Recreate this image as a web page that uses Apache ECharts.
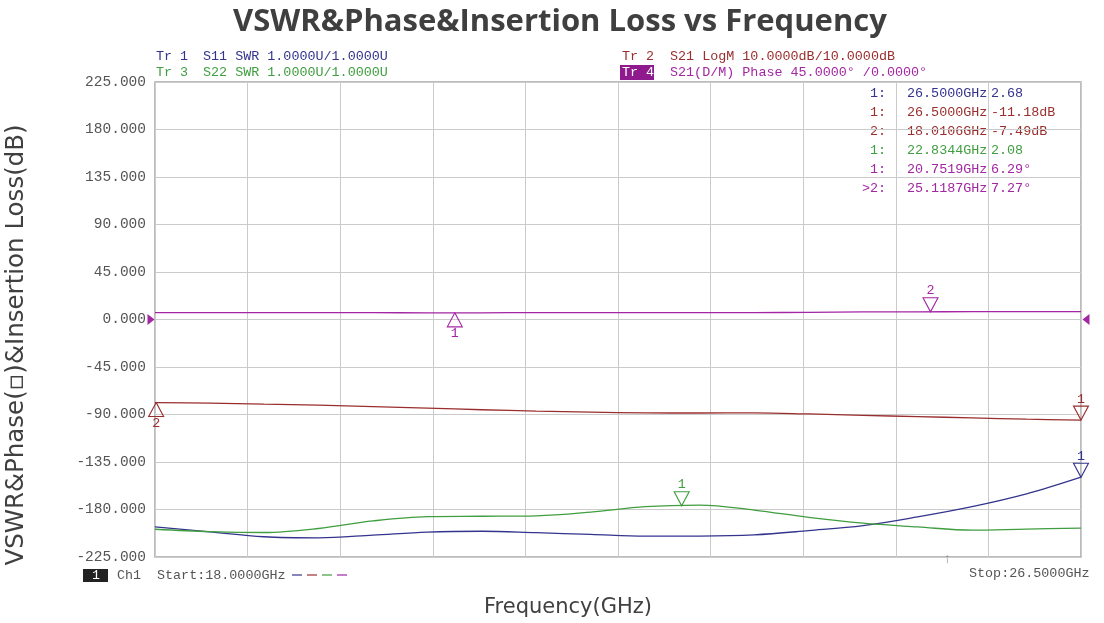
<!DOCTYPE html>
<html>
<head>
<meta charset="utf-8">
<script src="https://cdn.jsdelivr.net/npm/echarts@6/dist/echarts.min.js"></script>
<style>
html,body{margin:0;padding:0;background:#fff;}
#chart{width:1104px;height:623px;}
</style>
</head>
<body>
<div id="chart"></div>
<script>
// Frequency points (GHz)
const freqs = [18.0, 18.5, 19.0, 19.5, 20.0, 20.5, 21.0, 21.5, 22.0, 22.5, 23.0, 23.5, 24.0, 24.5, 25.0, 25.5, 26.0, 26.5];
// Trace values (display units)
const tr1S11Swr = [-196.5, -201.2, -205.8, -206.8, -204.3, -201.4, -200.6, -202.0, -203.6, -205.3, -205.2, -204.0, -200.0, -195.3, -187.0, -177.3, -165.2, -149.4];
const tr2S21LogM = [-78.7, -79.3, -80.2, -81.2, -82.5, -84.0, -85.5, -86.8, -87.8, -88.5, -88.6, -88.5, -89.5, -90.8, -92.0, -93.2, -94.4, -95.3];
const tr3S22Swr = [-198.7, -201.0, -201.8, -198.0, -190.8, -186.7, -186.4, -186.0, -182.5, -177.3, -175.8, -180.5, -187.5, -193.0, -196.5, -199.6, -198.5, -197.7];
const tr4S21Phase = [6.6, 6.6, 6.6, 6.6, 6.5, 6.3, 6.3, 6.6, 6.6, 6.6, 6.6, 6.6, 6.7, 7.2, 7.3, 7.4, 7.5, 7.5];
// Y tick labels
const yTicks = [-225, -180, -135, -90, -45, 0, 45, 90, 135, 180, 225];
// Markers: [trace index, label, frequency, display value, direction]
const markers = [
  [0, '1', 26.5, -149.4, 'down'],
  [1, '1', 26.5, -95.3, 'down'],
  [1, '2', 18.0106, -78.7, 'up'],
  [2, '1', 22.8344, -176.4, 'down'],
  [3, '1', 20.7519, 6.29, 'up'],
  [3, '2', 25.1187, 7.27, 'down']
];
// Marker table rows: [label, frequency text, value text, trace index]
const markerTable = [
  ['1:', '26.5000GHz', '2.68', 0],
  ['1:', '26.5000GHz', '-11.18dB', 1],
  ['2:', '18.0106GHz', '-7.49dB', 1],
  ['1:', '22.8344GHz', '2.08', 2],
  ['1:', '20.7519GHz', '6.29°', 3],
  ['>2:', '25.1187GHz', '7.27°', 3]
];
const traceNames = ['Tr 1 S11 SWR', 'Tr 2 S21 LogM', 'Tr 3 S22 SWR', 'Tr 4 S21 Phase'];
const traceColors = ['#34348e', '#9a2e2e', '#3f9e3f', '#a326a3'];
const traceData = [tr1S11Swr, tr2S21LogM, tr3S22Swr, tr4S21Phase];

const mono = "'Liberation Mono', 'DejaVu Sans Mono', monospace";
const chart = echarts.init(document.getElementById('chart'));

const DOWN = 'path://M0,0L16,0L8,14Z';
const UP = 'path://M8,0L16,14L0,14Z';

const series = traceData.map((arr, i) => {
  const mk = markers.filter(m => m[0] === i).map(m => ({
    name: m[1],
    coord: [m[2], m[3]],
    symbol: m[4] === 'down' ? DOWN : UP,
    symbolSize: [15, 14],
    symbolOffset: [0, m[4] === 'down' ? -7 : 7],
    label: {
      show: true, formatter: m[1], position: m[4] === 'down' ? 'top' : 'bottom',
      distance: 0, color: traceColors[i], fontFamily: mono, fontSize: 13.4
    }
  }));
  if (i === 3) {
    mk.push({coord: [18, 0], symbol: 'path://M0,0L10,6L0,12Z', symbolSize: [7, 11], symbolOffset: [-4, 0],
      itemStyle: {color: traceColors[3], borderWidth: 0}, label: {show: false}});
    mk.push({coord: [26.5, 0], symbol: 'path://M10,0L0,6L10,12Z', symbolSize: [7, 11], symbolOffset: [5, 0],
      itemStyle: {color: traceColors[3], borderWidth: 0}, label: {show: false}});
  }
  return {
    name: traceNames[i],
    type: 'line',
    xAxisIndex: 0,
    data: freqs.map((f, k) => [f, arr[k]]),
    smooth: 0.35,
    showSymbol: false,
    lineStyle: {color: traceColors[i], width: 1.3},
    itemStyle: {color: traceColors[i]},
    silent: true,
    animation: false,
    markPoint: {
      animation: false,
      itemStyle: {color: 'rgba(0,0,0,0)', borderColor: traceColors[i], borderWidth: 1.1},
      data: mk
    }
  };
});

const graphics = [];
function txt(x, y, s, color, opts) {
  graphics.push(Object.assign({
    type: 'text', x: x, y: y,
    style: Object.assign({text: s, fill: color, font: '13.4px ' + mono, textVerticalAlign: 'middle'}, (opts || {}))
  }));
}
// header lines
txt(156, 56, 'Tr 1', traceColors[0]);
txt(203, 56, 'S11 SWR 1.0000U/1.0000U', traceColors[0]);
txt(156, 72, 'Tr 3', traceColors[2]);
txt(203, 72, 'S22 SWR 1.0000U/1.0000U', traceColors[2]);
txt(622, 56, 'Tr 2', traceColors[1]);
txt(670, 56, 'S21 LogM 10.0000dB/10.0000dB', traceColors[1]);
graphics.push({type: 'rect', shape: {x: 620, y: 65, width: 34, height: 15}, style: {fill: '#8e1a8e'}});
txt(622, 72, 'Tr 4', '#ffffff');
txt(670, 72, 'S21(D/M) Phase 45.0000° /0.0000°', traceColors[3]);
// marker table
markerTable.forEach((r, k) => {
  const y = 93.5 + k * 19;
  const c = traceColors[r[3]];
  txt(886, y, r[0], c, {textAlign: 'right'});
  txt(907, y, r[1], c);
  txt(991, y, r[2], c);
});
// bottom status line
graphics.push({type: 'rect', shape: {x: 83, y: 569, width: 25, height: 13}, style: {fill: '#222'}});
txt(92, 575.5, '1', '#ffffff');
txt(117, 575.5, 'Ch1', '#555');
txt(157, 575.5, 'Start:18.0000GHz', '#555');
traceColors.forEach((c, k) => {
  graphics.push({type: 'line', shape: {x1: 292 + k * 15, y1: 575, x2: 302 + k * 15, y2: 575}, style: {stroke: c, lineWidth: 1.2}});
});
txt(969, 573.5, 'Stop:26.5000GHz', '#555');
txt(947, 559, '↑', '#888', {textAlign: 'center'});
// title
graphics.push({type: 'text', x: 560, y: 22, style: {text: 'VSWR&Phase&Insertion Loss vs Frequency', fill: '#3f3f3f',
  font: 'bold 31px "Open Sans", sans-serif', textAlign: 'center', textVerticalAlign: 'middle'}});
// axis names
graphics.push({type: 'text', x: 17, y: 345, rotation: Math.PI / 2, style: {text: 'VSWR&Phase(▫)&Insertion Loss(dB)', fill: '#404040',
  font: '24.5px "DejaVu Sans", sans-serif', textAlign: 'center', textVerticalAlign: 'middle'}});
graphics.push({type: 'text', x: 568, y: 608, style: {text: 'Frequency(GHz)', fill: '#404040',
  font: '21px "DejaVu Sans", sans-serif', textAlign: 'center', textVerticalAlign: 'middle'}});

const option = {
  animation: false,
  backgroundColor: '#ffffff',
  grid: {left: 155, right: 23, top: 82, bottom: 66, show: true, borderColor: '#a6a6a6', borderWidth: 1.5,
    backgroundColor: 'transparent', outerBoundsMode: 'none', containLabel: false},
  xAxis: [
    {type: 'value', min: 18, max: 26.5, show: true, splitLine: {show: false}, axisLine: {show: false},
     axisTick: {show: false}, axisLabel: {show: false}},
    {type: 'value', min: 0, max: 10, interval: 1, position: 'bottom', splitLine: {show: true, lineStyle: {color: '#cbcbcb', width: 1}},
     axisLine: {show: false}, axisTick: {show: false}, axisLabel: {show: false}}
  ],
  yAxis: {
    type: 'value', min: yTicks[0], max: yTicks[yTicks.length - 1], interval: 45,
    splitLine: {show: true, lineStyle: {color: '#cbcbcb', width: 1}},
    axisLine: {show: false}, axisTick: {show: false},
    axisLabel: {formatter: v => v.toFixed(3), fontFamily: mono, fontSize: 14.5, color: '#555', margin: 9}
  },
  series: series,
  graphic: graphics
};
chart.setOption(option);
</script>
</body>
</html>
